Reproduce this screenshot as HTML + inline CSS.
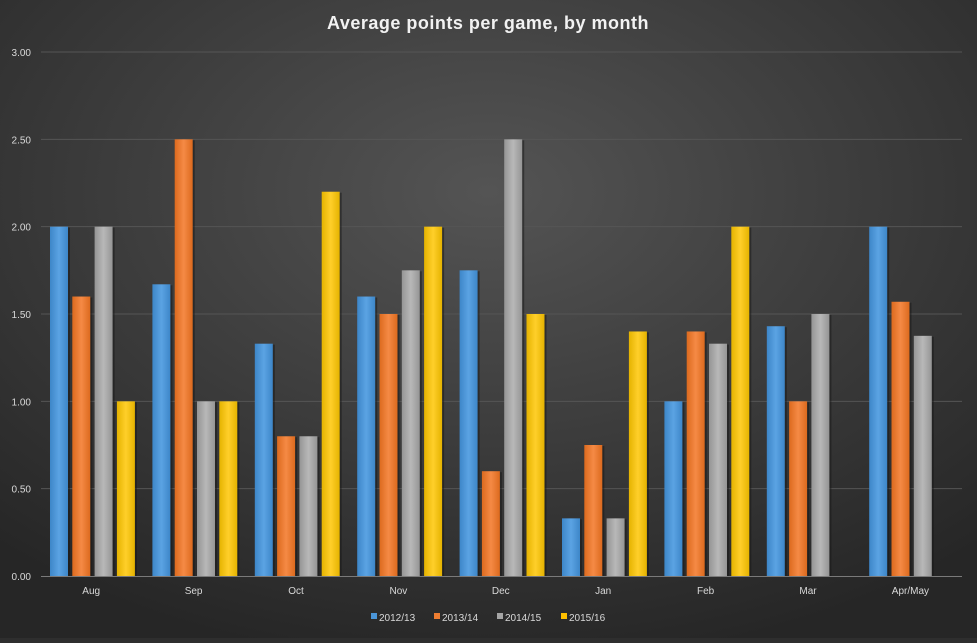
<!DOCTYPE html>
<html><head><meta charset="utf-8"><style>
html,body{margin:0;padding:0;}
body{width:977px;height:638px;overflow:hidden;background:#2e2e2e;font-family:"Liberation Sans",sans-serif;}
</style></head><body>
<svg id="c" width="977" height="638" xmlns="http://www.w3.org/2000/svg">
<defs>
<radialGradient id="bg" cx="50%" cy="30%" r="75%">
<stop offset="0" stop-color="#545454"/><stop offset="1" stop-color="#262626"/>
</radialGradient>
<linearGradient id="g0" x1="0" y1="0" x2="1" y2="0"><stop offset="0" stop-color="#3d86c8"/><stop offset="0.5" stop-color="#5ba3e3"/><stop offset="1" stop-color="#3d86c8"/></linearGradient>
<linearGradient id="g1" x1="0" y1="0" x2="1" y2="0"><stop offset="0" stop-color="#dc6a1e"/><stop offset="0.5" stop-color="#f58a45"/><stop offset="1" stop-color="#dc6a1e"/></linearGradient>
<linearGradient id="g2" x1="0" y1="0" x2="1" y2="0"><stop offset="0" stop-color="#959595"/><stop offset="0.5" stop-color="#b8b8b8"/><stop offset="1" stop-color="#959595"/></linearGradient>
<linearGradient id="g3" x1="0" y1="0" x2="1" y2="0"><stop offset="0" stop-color="#e5b300"/><stop offset="0.5" stop-color="#ffcf2a"/><stop offset="1" stop-color="#e5b300"/></linearGradient>
</defs>
<rect width="977" height="638" fill="url(#bg)"/>
<text x="488" y="29" text-anchor="middle" fill="#f2f2f2" font-size="18" font-weight="bold" letter-spacing="0.5">Average points per game, by month</text>
<g id="grid"></g><g id="bars"></g>
</svg>
<script>
var s="http://www.w3.org/2000/svg",svg=document.getElementById('c');
function el(t,a,txt){var e=document.createElementNS(s,t);for(var k in a)e.setAttribute(k,a[k]);if(txt!=null)e.textContent=txt;svg.appendChild(e);return e;}
var y0=576,ppu=174.67;
for(var i=0;i<=6;i++){var v=i*0.5,y=y0-v*ppu;
 if(i>0)el('line',{x1:41,x2:962,y1:y,y2:y,stroke:'#555','stroke-width':1});
 el('text',{x:31,y:y+4,'text-anchor':'end',fill:'#d9d9d9','font-size':10},v.toFixed(2));}
var cats=['Aug','Sep','Oct','Nov','Dec','Jan','Feb','Mar','Apr/May'];
var d=[[2,1.6,2,1],[1.67,2.5,1,1],[1.33,.8,.8,2.2],[1.6,1.5,1.75,2],[1.75,.6,2.5,1.5],[.33,.75,.33,1.4],[1,1.4,1.33,2],[1.43,1,1.5,0],[2,1.57,1.375,0]];
var cw=102.4,x0=40;
cats.forEach(function(c,i){var cx=x0+i*cw;
 d[i].forEach(function(v,j){if(!v)return;var h=v*ppu,x=cx+10+j*22.3;
  el('rect',{x:x+2,y:y0-h+1,width:18,height:h,fill:'#151515',opacity:0.5});
  el('rect',{x:x,y:y0-h,width:18,height:h,fill:'url(#g'+j+')'});});
 el('text',{x:cx+cw/2,y:594,'text-anchor':'middle',fill:'#d9d9d9','font-size':10},c);});
el('line',{x1:41,x2:962,y1:576.5,y2:576.5,stroke:'#7a7a7a','stroke-width':1});
var cols=['#4a95d8','#ed7d31','#a5a5a5','#ffc000'],lb=['2012/13','2013/14','2014/15','2015/16'],lx=[371,434,497,561];
lb.forEach(function(t,j){el('rect',{x:lx[j],y:613,width:6,height:6,fill:cols[j]});
 el('text',{x:lx[j]+8,y:621,fill:'#d9d9d9','font-size':10},t);});
</script>
</body></html>
